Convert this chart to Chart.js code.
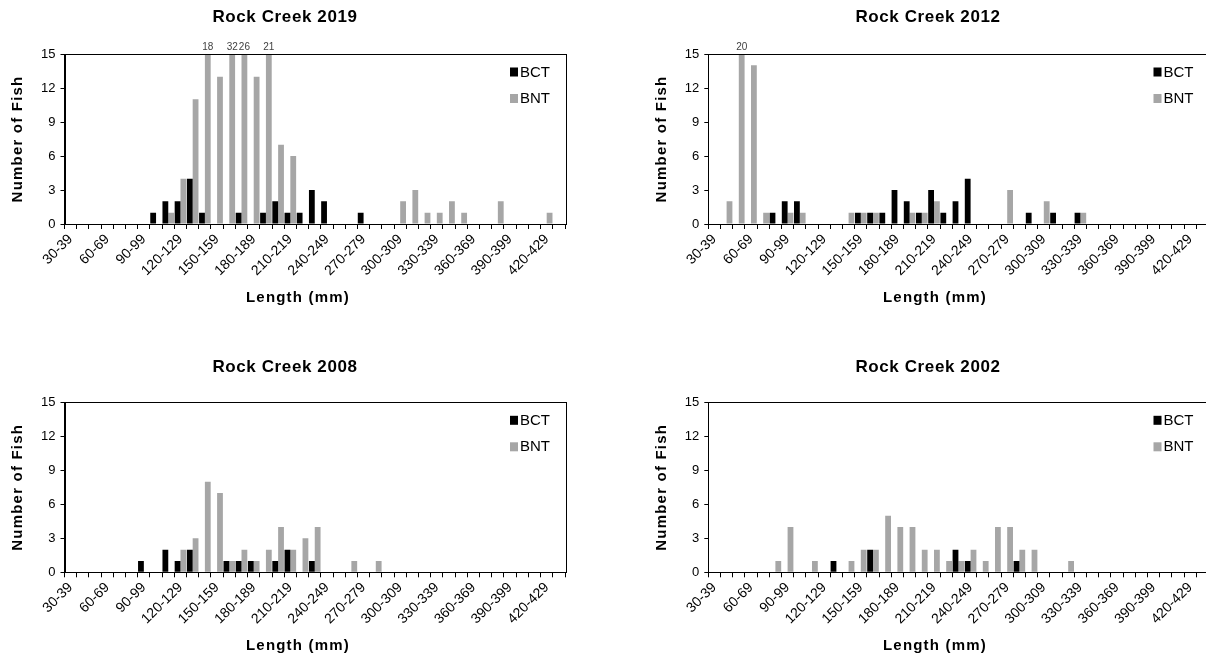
<!DOCTYPE html>
<html>
<head>
<meta charset="utf-8">
<script src="https://cdn.jsdelivr.net/npm/chart.js@4.4.0/dist/chart.umd.min.js"></script>
<style>
html, body { margin: 0; padding: 0; background: #fff; overflow: hidden; width: 1206px; height: 659px; }
.panel { position: absolute; }
</style>
</head>
<body>
<div class="panel" style="left:0px;top:0px"><canvas id="c2019" width="603" height="325"></canvas></div>
<div class="panel" style="left:603px;top:0px"><canvas id="c2012" width="620" height="325"></canvas></div>
<div class="panel" style="left:0px;top:325px"><canvas id="c2008" width="603" height="334"></canvas></div>
<div class="panel" style="left:603px;top:325px"><canvas id="c2002" width="620" height="334"></canvas></div>
<script>
// length classes (mm)
var categories = ["30-39","40-49","50-59","60-69","70-79","80-89","90-99","100-109","110-119","120-129",
  "130-139","140-149","150-159","160-169","170-179","180-189","190-199","200-209","210-219","220-229",
  "230-239","240-249","250-259","260-269","270-279","280-289","290-299","300-309","310-319","320-329",
  "330-339","340-349","350-359","360-369","370-379","380-389","390-399","400-409","410-419","420-429","430-439"];

var bct2019 = [0,0,0,0,0,0,0,1,2,2,4,1,0,0,1,0,1,2,1,1,3,2,0,0,1,0,0,0,0,0,0,0,0,0,0,0,0,0,0,0,0];
var bnt2019 = [0,0,0,0,0,0,0,0,1,4,11,18,13,32,26,13,21,7,6,0,0,0,0,0,0,0,0,2,3,1,1,2,1,0,0,2,0,0,0,1,0];

var bct2012 = [0,0,0,0,0,1,2,2,0,0,0,0,1,1,1,3,2,1,3,1,2,4,0,0,0,0,1,0,1,0,1,0,0,0,0,0,0,0,0,0,0];
var bnt2012 = [0,2,20,14,1,0,1,1,0,0,0,1,1,1,0,0,1,1,2,0,0,0,0,0,3,0,0,2,0,0,1,0,0,0,0,0,0,0,0,0,0];

var bct2008 = [0,0,0,0,0,0,1,0,2,1,2,0,0,1,1,1,0,1,2,0,1,0,0,0,0,0,0,0,0,0,0,0,0,0,0,0,0,0,0,0,0];
var bnt2008 = [0,0,0,0,0,0,0,0,0,2,3,8,7,1,2,1,2,4,2,3,4,0,0,1,0,1,0,0,0,0,0,0,0,0,0,0,0,0,0,0,0];

var bct2002 = [0,0,0,0,0,0,0,0,0,0,1,0,0,2,0,0,0,0,0,0,2,1,0,0,0,1,0,0,0,0,0,0,0,0,0,0,0,0,0,0,0];
var bnt2002 = [0,0,0,0,0,1,4,0,1,0,0,1,2,2,5,4,4,2,2,1,1,2,1,4,4,2,2,0,0,1,0,0,0,0,0,0,0,0,0,0,0];

var seriesNames = ["BCT", "BNT"];
var seriesColors = ["#000000", "#a6a6a6"];
var yMax = 15;
var yStep = 3;

var FONT = "'Liberation Sans', Arial, sans-serif";

// where each panel sits on the page
var panels = [
  {id: "c2019", title: "Rock Creek 2019", bct: bct2019, bnt: bnt2019, left: 0, top: 0, w: 603, h: 325,
   plot: [64.5, 54, 565, 224], titleX: 285, titleY: 17, yTitleX: 18, xTitleX: 298, xTitleY: 298},
  {id: "c2012", title: "Rock Creek 2012", bct: bct2012, bnt: bnt2012, left: 603, top: 0, w: 620, h: 325,
   plot: [708.3, 54, 1208.5, 224], titleX: 928, titleY: 17, yTitleX: 662, xTitleX: 935, xTitleY: 298},
  {id: "c2008", title: "Rock Creek 2008", bct: bct2008, bnt: bnt2008, left: 0, top: 325, w: 603, h: 334,
   plot: [64.5, 402.3, 565, 572.3], titleX: 285, titleY: 367, yTitleX: 18, xTitleX: 298, xTitleY: 646},
  {id: "c2002", title: "Rock Creek 2002", bct: bct2002, bnt: bnt2002, left: 603, top: 325, w: 620, h: 334,
   plot: [708.3, 402.3, 1208.5, 572.3], titleX: 928, titleY: 367, yTitleX: 662, xTitleX: 935, xTitleY: 646}
];

// frame, legend, titles and the numbers for bars that run off the top
function makeExtras(p) {
  return {
    id: "extras",
    afterDraw: function(chart) {
      var ctx = chart.ctx, a = chart.chartArea;
      ctx.save();
      ctx.strokeStyle = "#000";
      ctx.lineWidth = 1;
      ctx.strokeRect(Math.round(a.left) + 0.5, Math.round(a.top) + 0.5, Math.round(a.right - a.left), Math.round(a.bottom - a.top));

      ctx.fillStyle = "#404040";
      ctx.font = "10px " + FONT;
      ctx.textAlign = "center";
      ctx.textBaseline = "bottom";
      chart.data.datasets.forEach(function(ds, di) {
        var meta = chart.getDatasetMeta(di);
        ds.data.forEach(function(v, i) {
          if (v > yMax) ctx.fillText(String(v), meta.data[i].x, a.top - 2);
        });
      });

      // legend
      ctx.font = "15px " + FONT;
      ctx.textAlign = "left";
      ctx.textBaseline = "middle";
      chart.data.datasets.forEach(function(ds, di) {
        var y = a.top + 18 + di * 26.5;
        ctx.fillStyle = ds.backgroundColor;
        ctx.fillRect(a.right - 55, y - 4.5, 8, 9);
        ctx.fillStyle = "#000";
        ctx.fillText(ds.label, a.right - 45, y + 0.5);
      });

      ctx.fillStyle = "#000";
      ctx.textAlign = "center";
      ctx.letterSpacing = "0.6px";
      ctx.font = "bold 17px " + FONT;
      ctx.fillText(p.title, p.titleX - p.left, p.titleY - p.top);
      ctx.letterSpacing = "1.2px";
      ctx.font = "bold 15px " + FONT;
      ctx.fillText("Length (mm)", p.xTitleX - p.left, p.xTitleY - p.top);
      ctx.translate(p.yTitleX - p.left, (a.top + a.bottom) / 2);
      ctx.rotate(-Math.PI / 2);
      ctx.fillText("Number of Fish", 0, 0);
      ctx.letterSpacing = "0px";
      ctx.restore();
    }
  };
}

panels.forEach(function(p) {
  var yW = p.plot[0] - p.left;
  var padRight = p.left + p.w - p.plot[2];
  var padTop = p.plot[1] - p.top;
  var xH = p.top + p.h - p.plot[3];
  new Chart(document.getElementById(p.id), {
    type: "bar",
    data: {
      labels: categories,
      datasets: [
        {label: seriesNames[0], data: p.bct, backgroundColor: seriesColors[0]},
        {label: seriesNames[1], data: p.bnt, backgroundColor: seriesColors[1]}
      ]
    },
    options: {
      responsive: false,
      animation: false,
      devicePixelRatio: 1,
      barPercentage: 1,
      categoryPercentage: 0.95,
      layout: {padding: {left: 0, top: padTop, right: padRight, bottom: 0}},
      plugins: {legend: {display: false}, tooltip: {enabled: false}},
      scales: {
        x: {
          grid: {drawOnChartArea: false, color: "#000", tickLength: 5, offset: true},
          border: {color: "#000", width: 1},
          ticks: {
            autoSkip: false, minRotation: 45, maxRotation: 45, padding: 2,
            color: "#000", font: {size: 14, family: FONT},
            callback: function(value, index) { return index % 3 === 0 ? this.getLabelForValue(value) : ""; }
          },
          afterFit: function(s) { s.height = xH; }
        },
        y: {
          min: 0, max: yMax,
          grid: {drawOnChartArea: false, color: "#000", tickLength: 4},
          border: {color: "#000", width: 1},
          ticks: {stepSize: yStep, color: "#000", padding: 5, font: {size: 13, family: FONT}},
          afterFit: function(s) { s.width = yW; }
        }
      }
    },
    plugins: [makeExtras(p)]
  });
});
</script>
</body>
</html>
